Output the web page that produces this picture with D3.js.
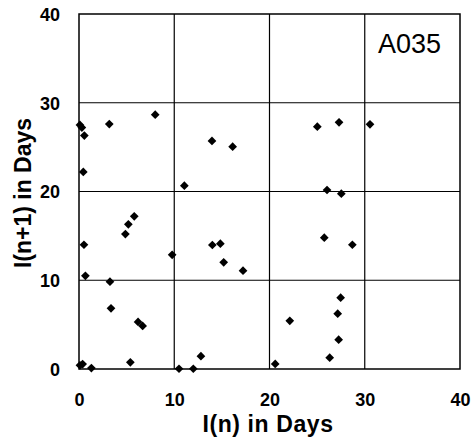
<!DOCTYPE html>
<html>
<head>
<meta charset="utf-8">
<script src="https://cdn.jsdelivr.net/npm/d3@7"></script>
<style>
  body { margin: 0; background: #fff; }
  text { font-family: "Liberation Sans", Arial, sans-serif; fill: #000; }
</style>
</head>
<body>
<svg id="chart"></svg>
<script>
//data: interval n (x) against interval n+1 (y)
var xVals = [0.1, 0.3, 0.56, 3.18, 8.0, 0.45, 11.06, 5.8, 5.18, 4.87, 0.52, 0.67, 9.78, 3.25, 3.36,
             6.2, 6.68, 5.39, 0.1, 0.38, 1.3, 10.5, 12.0, 12.8, 13.96, 16.13, 14.0, 14.84, 15.19,
             17.22, 25.02, 27.3, 30.55, 26.04, 27.54, 25.75, 28.7, 27.47, 27.16, 22.13, 27.26, 26.32, 20.6];
var yVals = [27.5, 27.2, 26.3, 27.6, 28.65, 22.2, 20.65, 17.2, 16.3, 15.2, 14.0, 10.5, 12.87, 9.84, 6.84,
             5.3, 4.85, 0.75, 0.41, 0.56, 0.1, 0.03, 0.03, 1.45, 25.7, 25.05, 13.97, 14.12, 12.02,
             11.08, 27.3, 27.8, 27.57, 20.17, 19.75, 14.8, 14.0, 8.04, 6.23, 5.43, 3.3, 1.28, 0.57];
var ticks = [0, 10, 20, 30, 40];
var label = "A035";

//define margin and scales
var margin = {top: 14, right: 16, bottom: 73, left: 79},
    width = 476 - margin.left - margin.right,
    height = 442 - margin.top - margin.bottom;

var xScale = d3.scaleLinear().domain([0, 40]).range([0, width]);
var yScale = d3.scaleLinear().domain([0, 40]).range([height, 0]);

var svgtop = d3.select("#chart")
	.attr("width", 476)
	.attr("height", 442);

var svg = svgtop.append("g")
	.attr("transform", "translate(" + margin.left + "," + margin.top + ")");

//grid lines
svg.selectAll(".vgrid")
	.data(ticks.slice(1, -1))
	.enter()
	.append("line")
	.attr("x1", function(d) {return xScale(d);})
	.attr("x2", function(d) {return xScale(d);})
	.attr("y1", 0)
	.attr("y2", height)
	.attr("stroke", "#000")
	.attr("stroke-width", 1.2);

svg.selectAll(".hgrid")
	.data(ticks.slice(1, -1))
	.enter()
	.append("line")
	.attr("x1", 0)
	.attr("x2", width)
	.attr("y1", function(d) {return yScale(d);})
	.attr("y2", function(d) {return yScale(d);})
	.attr("stroke", "#000")
	.attr("stroke-width", 1.2);

//frame
svg.append("rect")
	.attr("width", width)
	.attr("height", height)
	.attr("fill", "none")
	.attr("stroke", "#000")
	.attr("stroke-width", 1.5);

//axes, only the labels are shown
var xAxis = svg.append("g")
	.attr("transform", "translate(0," + height + ")")
	.call(d3.axisBottom(xScale).tickValues(ticks).tickSize(0).tickPadding(24));
var yAxis = svg.append("g")
	.call(d3.axisLeft(yScale).tickValues(ticks).tickSize(0).tickPadding(19));
svg.selectAll(".domain").remove();
svg.selectAll(".tick text")
	.style("font-size", "18px")
	.style("font-weight", "bold");
yAxis.selectAll(".tick text").attr("dy", "0.36em");

//diamond markers
svg.selectAll(".pt")
	.data(xVals)
	.enter()
	.append("path")
	.attr("class", "pt")
	.attr("d", d3.symbol().type(d3.symbolSquare).size(38))
	.attr("transform", function(d, i) {
		return "translate(" + xScale(d) + "," + yScale(yVals[i]) + ") rotate(45)";
	})
	.attr("fill", "#000");

//axis titles
svgtop.append("text")
	.attr("x", 268)
	.attr("y", 432)
	.style("text-anchor", "middle")
	.style("font-size", "23px")
	.style("font-weight", "bold")
	.style("letter-spacing", "0.6px")
	.text("I(n) in Days");

svgtop.append("text")
	.attr("transform", "translate(31,193) rotate(-90)")
	.style("text-anchor", "middle")
	.style("font-size", "23px")
	.style("font-weight", "bold")
	.text("I(n+1) in Days");

//label in the corner
svg.append("text")
	.attr("x", width - 19)
	.attr("y", 39)
	.style("text-anchor", "end")
	.style("font-size", "27px")
	.text(label);
</script>
</body>
</html>
